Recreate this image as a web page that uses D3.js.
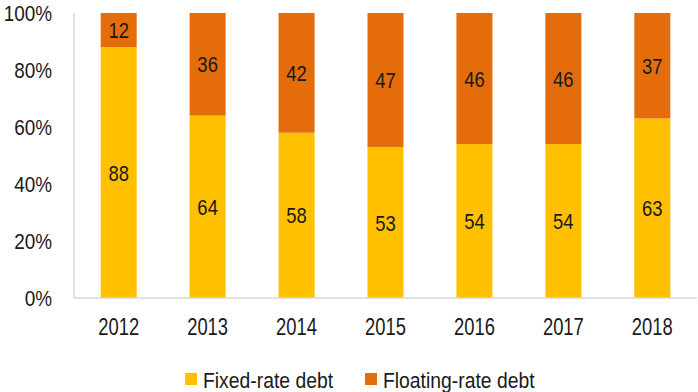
<!DOCTYPE html>
<html>
<head>
<meta charset="utf-8">
<script src="https://cdn.jsdelivr.net/npm/d3@7"></script>
<style>
  html, body { margin: 0; padding: 0; background: #fff; }
  svg text { font-family: "Liberation Sans", Arial, sans-serif; fill: #1a1a1a; }
</style>
</head>
<body>
<svg id="chart" width="698" height="392"></svg>
<script>
// Share of debt by rate type (%)
const years = ["2012", "2013", "2014", "2015", "2016", "2017", "2018"];
const fixedRate = [88, 64, 58, 53, 54, 54, 63];
const floatingRate = [12, 36, 42, 47, 46, 46, 37];
const yTicks = [0, 20, 40, 60, 80, 100];
const seriesNames = ["Fixed-rate debt", "Floating-rate debt"];
const seriesColors = ["#FFC000", "#E46C0A"];

const svg = d3.select("#chart");
const margin = { left: 74, right: 1, top: 13, bottom: 94 };
const W = 698, H = 392;

const x = d3.scaleBand().domain(years).range([margin.left, W - margin.right]).paddingInner(0.595).paddingOuter(0.3);
const y = d3.scaleLinear().domain([0, 100]).range([H - margin.bottom, margin.top]);

// Text placed at (px, py) and narrowed horizontally by sx
function label(sel, px, py, sx, size, anchor, str) {
  return sel.append("text")
    .attr("transform", `translate(${px},${py}) scale(${sx},1)`)
    .attr("dy", "0.36em")
    .attr("text-anchor", anchor)
    .attr("font-size", size)
    .text(str);
}

const rows = years.map((yr, i) => ({ year: yr, fixed: fixedRate[i], floating: floatingRate[i] }));
const layers = d3.stack().keys(["fixed", "floating"])(rows);

// Stacked bars with value labels centred in each segment
const g = svg.append("g");
layers.forEach((layer, li) => {
  g.selectAll(null).data(layer).enter().append("rect")
    .attr("x", d => x(d.data.year))
    .attr("width", x.bandwidth())
    .attr("y", d => y(d[1]))
    .attr("height", d => y(d[0]) - y(d[1]))
    .attr("fill", seriesColors[li]);
  layer.forEach(d => {
    label(g, x(d.data.year) + x.bandwidth() / 2, (y(d[0]) + y(d[1])) / 2, 0.82, 22.5, "middle", d[1] - d[0]);
  });
});

// Axis lines
svg.append("line")
  .attr("x1", margin.left).attr("x2", margin.left)
  .attr("y1", y(100)).attr("y2", y(0))
  .attr("stroke", "#d9d9d9").attr("stroke-width", 1.5);
svg.append("line")
  .attr("x1", margin.left).attr("x2", W - margin.right)
  .attr("y1", y(0)).attr("y2", y(0))
  .attr("stroke", "#d9d9d9").attr("stroke-width", 1.5);

// Y tick labels
const yg = svg.append("g");
yTicks.forEach(t => label(yg, 52, y(t), 0.86, 22, "end", t + "%"));

// X tick labels
const xg = svg.append("g");
years.forEach(yr => label(xg, x(yr) + x.bandwidth() / 2, 327, 0.8, 23, "middle", yr));

// Legend
const legendX = [185, 365];
const lg = svg.append("g");
seriesNames.forEach((name, i) => {
  lg.append("rect")
    .attr("x", legendX[i]).attr("y", 373)
    .attr("width", 12).attr("height", 12)
    .attr("fill", seriesColors[i]);
  label(lg, legendX[i] + 18, 380, 0.86, 22.5, "start", name);
});
</script>
</body>
</html>
